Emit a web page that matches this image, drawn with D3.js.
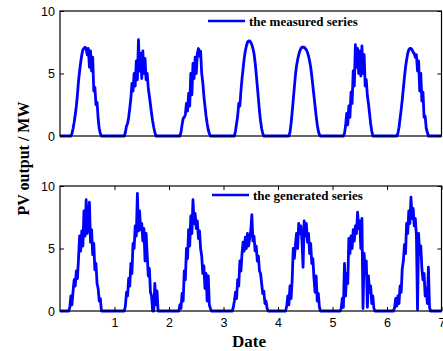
<!DOCTYPE html>
<html>
<head>
<meta charset="utf-8">
<script src="https://cdn.jsdelivr.net/npm/d3@7"></script>
<style>
  html, body { margin: 0; padding: 0; background: #fff; }
  svg { display: block; }
  .tick text { font-family: "Liberation Sans", Arial, sans-serif; font-size: 12.5px; fill: #000; }
  .tick line { stroke: #000; stroke-width: 1; }
</style>
</head>
<body>
<svg id="chart" width="443" height="351"></svg>
<script>
// ---------- data ----------
const step = 0.02;                 // sampling step in days
const xTicks = [1, 2, 3, 4, 5, 6, 7];
const yTicks = [0, 5, 10];
const seriesNames = ["the measured series", "the generated series"];

// measured series: daylight values per day, starting at measuredStart[d]; zero otherwise
const measuredStart = [0.20, 1.18, 2.20, 3.20, 4.20, 5.20, 6.18];
const measuredDays = [
  [0,0.2,0.6,1.1,1.7,2.4,3.3,4.4,5.2,5.9,6.5,6.9,7.0,7.1,7.0,6.5,7.0,5.5,6.8,5.2,6.3,3.6,3.9,2.5,2.7,1.4,0.6,0.2,0],
  [0,0.3,0.8,1.0,1.5,2.2,3.0,4.2,3.6,5.0,4.0,6.0,4.5,7.7,5.2,6.6,4.6,6.8,5.0,6.2,4.5,5.0,3.8,3.2,2.5,1.8,1.2,0.7,0.3,0],
  [0,0.3,0.9,1.4,1.5,1.7,2.6,2.0,3.4,2.4,5.0,3.3,5.8,4.6,6.3,5.0,6.6,7.0,6.4,6.8,5.0,4.3,3.2,2.4,1.6,1.0,0.5,0.2,0],
  [0,0.4,1.0,1.6,2.6,2.4,3.6,4.6,5.4,6.2,6.8,7.2,7.5,7.6,7.6,7.5,7.3,7.0,6.6,5.9,5.0,4.0,3.0,2.0,1.2,0.6,0.2,0],
  [0,0.3,1.0,1.9,2.9,3.9,4.9,5.6,6.1,6.5,6.8,7.0,7.1,7.1,7.1,7.0,6.9,6.7,6.4,6.0,5.5,4.8,4.0,3.2,2.4,1.6,0.9,0.4,0.1,0],
  [0,0.2,0.8,1.8,0.9,2.4,1.5,3.5,2.6,5.2,4.0,7.3,5.5,7.0,5.0,6.8,4.8,7.2,5.0,6.5,4.0,4.5,3.2,2.6,1.8,1.0,0.4,0],
  [0,0.2,0.7,1.4,2.1,2.9,3.8,4.7,5.5,6.1,6.6,6.9,7.0,7.0,6.9,6.7,6.6,6.3,6.5,5.2,6.0,3.6,5.0,2.8,3.5,1.5,1.6,0.6,0.3,0]
];

// generated series
const generatedStart = [0.16, 1.18, 2.18, 3.16, 4.14, 5.14, 6.12];
const generatedDays = [
  [0,0.3,1.2,0.5,1.6,2.5,2.0,3.2,2.6,4.2,6.0,4.8,6.4,5.2,8.0,6.0,8.9,6.2,7.5,8.7,5.5,6.5,4.5,5.4,3.3,3.8,2.2,1.8,0.8,1.0,0],
  [0,0.4,1.5,1.2,2.6,2.0,3.8,3.0,5.4,5.0,6.8,6.0,9.4,6.4,8.0,6.5,7.0,5.6,6.6,4.0,6.2,4.5,2.8,3.4,1.5,1.2,0,0,2.2,0.5,1.6,0],
  [0,0.5,0.2,1.4,0.8,3.2,2.5,5.0,4.2,6.5,5.2,7.6,6.2,8.9,7.0,7.8,6.6,7.2,5.8,6.4,5.0,4.4,3.0,3.6,1.8,3.0,0.8,2.8,0.5,0.2,0],
  [0,0.3,0.8,1.5,1.0,2.5,2.0,4.0,3.2,4.6,5.5,4.8,5.9,5.0,6.2,5.2,5.8,6.4,7.7,5.6,6.0,4.8,5.2,4.0,4.4,3.2,3.0,2.2,1.4,1.6,0.6,0.8,0.2,0],
  [0,0.4,1.2,0.5,2.0,1.0,2.5,5.0,4.2,5.3,6.2,5.0,7.0,6.2,6.8,5.6,3.5,7.2,6.0,7.0,5.5,6.2,4.6,5.4,3.8,4.2,2.6,1.5,2.8,0.8,1.4,0.3,0],
  [0,0.2,1.0,0.3,3.8,1.2,3.0,2.2,5.8,4.6,6.0,5.0,6.5,5.6,6.8,6.2,7.9,6.6,7.2,5.0,7.4,0.2,4.6,3.0,4.0,0.3,2.8,1.5,2.0,0.6,1.2,0.2,0],
  [0,0.3,1.0,0.4,1.2,0.6,2.0,1.5,3.4,4.0,5.3,4.6,7.0,6.2,8.0,7.0,9.1,7.4,8.2,6.8,7.4,6.0,0.1,6.2,4.5,5.2,3.4,2.5,3.0,1.2,1.8,0.6,3.5,0.3,0]
];

// build full time series (night-time values are zero)
function buildSeries(starts, days) {
  const n = Math.round(7 / step) + 1;
  const vals = new Array(n).fill(0);
  days.forEach((arr, d) => {
    const i0 = Math.round(starts[d] / step);
    arr.forEach((v, i) => { if (i0 + i < n) vals[i0 + i] = v; });
  });
  return vals.map((v, i) => ({ t: i * step, v }));
}
const measured = buildSeries(measuredStart, measuredDays);
const generated = buildSeries(generatedStart, generatedDays);

// ---------- layout ----------
const svg = d3.select("#chart");
const left = 60, right = 441.5;
const panels = [
  { top: 11, bottom: 136, data: measured, name: seriesNames[0], legX: 208, legY: 21, xLabels: false },
  { top: 186, bottom: 311, data: generated, name: seriesNames[1], legX: 212, legY: 195, xLabels: true }
];
const x = d3.scaleLinear().domain([0, 7]).range([left, right]);

panels.forEach(p => {
  const y = d3.scaleLinear().domain([0, 10]).range([p.bottom, p.top]);
  const g = svg.append("g");

  // series line
  g.append("path")
    .datum(p.data)
    .attr("fill", "none")
    .attr("stroke", "#0000ff")
    .attr("stroke-width", 2.8)
    .attr("stroke-linejoin", "round")
    .attr("d", d3.line().x(d => x(d.t)).y(d => y(d.v)));

  // axes
  const ax = g.append("g").attr("transform", `translate(${left},0)`)
    .call(d3.axisLeft(y).tickValues(yTicks).tickSize(-4).tickSizeOuter(0).tickPadding(5).tickFormat(d3.format("d")));
  const axR = g.append("g").attr("transform", `translate(${right},0)`)
    .call(d3.axisRight(y).tickValues(yTicks).tickSize(-4).tickSizeOuter(0).tickFormat(""));
  ax.select(".domain").remove();
  axR.select(".domain").remove();

  if (p.xLabels) {
    const axB = g.append("g").attr("transform", `translate(0,${p.bottom})`)
      .call(d3.axisBottom(x).tickValues(xTicks).tickSize(-4).tickSizeOuter(0).tickPadding(7).tickFormat(d3.format("d")));
    const axT = g.append("g").attr("transform", `translate(0,${p.top})`)
      .call(d3.axisTop(x).tickValues(xTicks).tickSize(-4).tickSizeOuter(0).tickFormat(""));
    axB.select(".domain").remove();
    axT.select(".domain").remove();
  }

  // frame
  g.append("rect")
    .attr("x", left).attr("y", p.top)
    .attr("width", right - left).attr("height", p.bottom - p.top)
    .attr("fill", "none").attr("stroke", "#000").attr("stroke-width", 1.2);

  // legend
  g.append("line")
    .attr("x1", p.legX).attr("x2", p.legX + 37)
    .attr("y1", p.legY).attr("y2", p.legY)
    .attr("stroke", "#0000ff").attr("stroke-width", 2.5);
  g.append("text")
    .attr("x", p.legX + 41).attr("y", p.legY + 4.5)
    .attr("font-family", "'Liberation Serif', 'Times New Roman', serif")
    .attr("font-weight", "bold")
    .attr("font-size", "13px")
    .text(p.name);
});

// axis titles
svg.append("text")
  .attr("transform", "translate(29,158.5) rotate(-90)")
  .attr("text-anchor", "middle")
  .attr("font-family", "'Liberation Serif', 'Times New Roman', serif")
  .attr("font-weight", "bold")
  .attr("font-size", "16px")
  .text("PV output / MW");

svg.append("text")
  .attr("x", 249).attr("y", 347)
  .attr("text-anchor", "middle")
  .attr("font-family", "'Liberation Serif', 'Times New Roman', serif")
  .attr("font-weight", "bold")
  .attr("font-size", "17px")
  .text("Date");
</script>
</body>
</html>
